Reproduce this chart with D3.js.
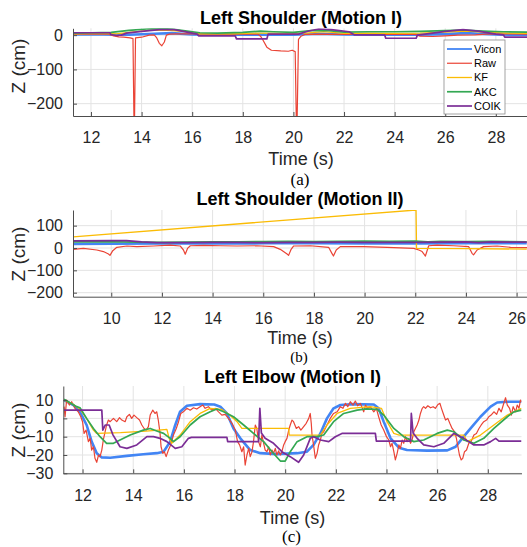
<!DOCTYPE html>
<html>
<head>
<meta charset="utf-8">
<script src="https://d3js.org/d3.v7.min.js"></script>
<style>
body { margin: 0; background: #fff; }
svg { display: block; }
.axis text { font-family: "Liberation Sans", Arial, sans-serif; font-size: 16px; fill: #262626; }
.axis path, .axis line { stroke: #4d4d4d; }
.grid { stroke: #e3e3e3; stroke-width: 1; }
.title { font-family: "Liberation Sans", Arial, sans-serif; font-size: 18px; font-weight: bold; fill: #000; }
.label { font-family: "Liberation Sans", Arial, sans-serif; font-size: 18px; fill: #262626; }
.ylabel { font-size: 19px; }
.caption { font-family: "Liberation Serif", "Times New Roman", serif; fill: #000; }
.legend text { font-family: "Liberation Sans", Arial, sans-serif; font-size: 11px; fill: #000; }
</style>
</head>
<body>
<div id="chart"></div>
<script>
var width = 527;
var height = 547;

// Series names and colours (legend order)
var seriesNames = ["Vicon", "Raw", "KF", "AKC", "COIK"];
var seriesColors = ["#4285f4", "#ea4335", "#fbbc05", "#34a853", "#7b2d96"];

// ---- (a) Left Shoulder (Motion I) : [time s, Z cm]
var shoulder1Vicon = [[11.3,2],[12.5,2],[13,1],[13.5,1],[14.5,4],[15.2,6],[16,2],[17,1],[18,1],[19,2],[20,1],[21,4],[22,2],[23,1],[24,1],[25,1],[26,3],[26.8,6],[28,2],[29.3,1]];
var shoulder1Raw = [[11.3,3],[12.7,3],[12.9,-2],[13.1,-5],[13.3,-6],[13.55,-8],[13.66,-10],[13.71,-320],[13.76,-8],[14.0,-6],[14.3,0],[14.5,1],[14.6,-8],[14.7,-24],[14.8,-31],[14.9,-20],[14.98,0],[15.1,3],[15.5,4],[16,4],[17,3],[18,4],[18.6,3],[18.7,-3],[18.8,-15],[18.95,-35],[19.13,-44],[19.5,-46],[19.8,-47],[19.95,-44],[20.07,-48],[20.13,-320],[20.2,-12],[20.3,-3],[20.45,2],[21,3],[22,2],[23,3],[24,2],[24.8,3],[25.0,-3],[25.5,-4],[26.0,-2],[26.5,0],[27.2,1],[27.6,3],[28.5,4],[29.3,3]];
var shoulder1KF = [[11.3,4],[12.5,5],[13,4],[13.5,8],[14.3,14],[15,15],[15.7,10],[16.3,4],[17.5,4],[18.5,6],[19.5,5],[20.5,6],[21.2,10],[22,5],[23,6],[24,5],[25,6],[26,9],[26.8,12],[27.7,8],[28.5,6],[29.3,5]];
var shoulder1AKC = [[11.3,6],[12,7],[12.8,8],[13.5,14],[14.2,18],[14.7,19],[15.2,18],[15.8,12],[16.3,7],[17,6],[18,8],[18.7,12],[19.2,10],[20,8],[20.7,13],[21.3,14],[22,9],[23,10],[24,10],[25,11],[26,13],[26.7,15],[27.5,12],[28.3,10],[29.3,9]];
var shoulder1COIK = [[11.3,7],[12.75,7],[12.78,2],[13.0,-1],[13.2,0],[13.4,6],[14,11],[14.7,16],[15.3,16],[15.8,9],[16.2,3],[16.25,-2],[17.7,-2],[17.75,-11],[18.95,-11],[19.0,3],[20.2,3],[20.6,12],[21.0,18],[21.5,16],[22.2,10],[22.4,1],[23.6,1],[23.65,-9],[24.85,-9],[24.9,0],[25.5,6],[26.0,11],[26.7,16],[27.3,12],[28.0,3],[28.3,1],[28.35,-6],[29.3,-6]];

// ---- (b) Left Shoulder (Motion II)
var shoulder2Vicon = [[8.5,18],[10,19],[12,20],[14,20],[16,21],[18,21],[20,20],[22,20],[24,21],[26.4,21]];
var shoulder2Raw = [[8.5,-6],[8.9,-2],[9.43,-9],[9.69,-16],[9.89,-27],[9.95,-33],[10.06,-12],[10.22,3],[10.62,9],[11.01,6],[11.67,9],[12.33,13],[12.72,9],[12.85,-9],[12.92,-28],[13.01,-2],[13.12,10],[13.65,12],[14.3,10],[14.96,9],[15.75,10],[16.41,6],[16.67,-6],[16.94,-27],[17.0,-33],[17.1,-6],[17.2,9],[17.86,10],[18.58,3],[18.71,-24],[18.77,-36],[18.88,-9],[19.04,6],[19.96,6],[20.89,3],[21.94,-2],[22.14,-9],[22.27,-16],[22.4,-36],[22.53,10],[22.86,13],[23.52,10],[24.11,6],[24.24,-24],[24.3,-31],[24.44,-9],[24.7,6],[25.23,9],[25.76,3],[26.42,2]];
var shoulder2KF = [[8.5,50],[22.03,170],[22.05,-2],[24,-3],[26.4,-5]];
var shoulder2AKC = [[8.5,27],[10,28],[11,26],[12,25],[13,26],[14,27],[15,28],[16,29],[17,30],[18,29],[19,30],[20,31],[21,30],[22,31],[22.5,28],[23,30],[24,29],[25,30],[26.4,28]];
var shoulder2COIK = [[8.5,32],[10,33],[10.6,33],[11.2,27],[11.8,24],[13,24],[14,25],[15,25],[16,24],[17,25],[18,25],[19,26],[20,25],[21,25],[22,25],[23,26],[24,27],[24.5,24],[25,27],[26,26],[26.4,26]];

// ---- (c) Left Elbow (Motion I)
var elbowVicon = [[11.27,10],[11.64,7.3],[11.9,3.6],[12.16,-3.6],[12.36,-12.7],[12.56,-19],[12.76,-21.3],[13.09,-21.5],[13.75,-20.5],[14.4,-19.6],[14.93,-19],[15.2,-18.2],[15.46,-12.7],[15.66,-3.6],[15.85,3.6],[16.12,6.9],[16.64,7.8],[17.2,7.6],[17.44,6.4],[17.7,2.7],[17.96,-5.5],[18.23,-10.9],[18.62,-17.3],[19.02,-19],[19.67,-19.5],[20.47,-19],[20.86,-18.2],[21.12,-14.5],[21.39,-8.2],[21.65,0],[21.91,5.5],[22.18,7.3],[22.7,7.8],[23.5,7.6],[23.69,5.5],[23.89,-1.8],[24.16,-10.9],[24.49,-16],[24.81,-17.3],[25.6,-17.6],[26.4,-17.5],[26.73,-15.5],[26.99,-10.9],[27.32,-5.5],[27.71,0.9],[28.11,6.4],[28.37,8.7],[28.77,9.1],[29.33,9.1]];
var elbowRaw = [[11.27,6.4],[11.31,0.9],[11.37,10],[11.48,7.3],[11.57,9.1],[11.7,5.5],[11.83,3.6],[11.93,0.9],[12.0,-1.8],[12.06,-8.2],[12.14,-6.4],[12.23,-12.7],[12.3,-10.9],[12.36,-17.3],[12.43,-15.5],[12.49,-21.8],[12.56,-24],[12.63,-20],[12.69,-20.9],[12.76,-17.3],[12.82,-11.8],[12.89,-7.3],[12.95,-3.6],[13.02,-0.9],[13.09,-1.8],[13.22,0],[13.35,-1.8],[13.46,0.4],[13.55,-0.9],[13.68,-1.8],[13.75,0.9],[13.85,2.2],[13.94,0],[14.03,1.8],[14.14,0.4],[14.25,-0.9],[14.34,-3.6],[14.43,-5.5],[14.51,-6.4],[14.6,-4.5],[14.67,1.8],[14.77,4.5],[14.86,2.7],[14.93,3.6],[14.99,-0.9],[15.06,-8.2],[15.1,-15.5],[15.17,-19.1],[15.23,-18.2],[15.3,-20.9],[15.39,-17.3],[15.48,-14.5],[15.59,-9.1],[15.7,-5.5],[15.79,-1.8],[15.88,2.7],[15.98,3.6],[16.12,5.5],[16.25,4.5],[16.38,5.8],[16.51,5.1],[16.64,6.4],[16.75,7.3],[16.84,5.5],[16.97,6.4],[17.1,4.5],[17.24,5.5],[17.37,3.6],[17.5,1.8],[17.63,2.2],[17.76,0],[17.9,-2.7],[18.03,-6.4],[18.12,-12.7],[18.2,-14.5],[18.29,-18.2],[18.36,-15.5],[18.42,-25.5],[18.49,-20],[18.56,-16.4],[18.62,-20.9],[18.69,-18.2],[18.75,-12.7],[18.82,-3.6],[18.88,-5.5],[18.95,-12.7],[19.02,-15.5],[19.08,-9.1],[19.15,-13.6],[19.21,-17.3],[19.28,-18.2],[19.35,-15.5],[19.41,-20],[19.48,-17.3],[19.54,-19.1],[19.61,-16.4],[19.67,-20],[19.74,-17.8],[19.81,-20],[19.87,-18.2],[19.94,-14.5],[20.0,-12.7],[20.07,-10.9],[20.14,-6.4],[20.2,-3.6],[20.27,-0.9],[20.33,-1.8],[20.44,-5.5],[20.53,-4.5],[20.62,-6.4],[20.73,-4.5],[20.83,-2.7],[20.93,0],[20.99,2.7],[21.03,-2.7],[21.06,-9.1],[21.12,-14.5],[21.19,-21.8],[21.26,-19.1],[21.32,-14.5],[21.39,-11.8],[21.45,-8.2],[21.52,-7.3],[21.65,-3.6],[21.78,0],[21.91,2.7],[22.05,3.6],[22.18,6.4],[22.28,5.5],[22.38,8.2],[22.47,6.4],[22.57,9.1],[22.68,7.3],[22.77,9.5],[22.86,6.9],[22.97,8.2],[23.1,3.6],[23.17,7.3],[23.26,5.5],[23.36,6.4],[23.5,3.6],[23.6,5.5],[23.69,0.9],[23.79,-3.6],[23.89,-6.4],[24.0,-10],[24.09,-11.8],[24.16,-15.5],[24.22,-13.6],[24.29,-18.2],[24.35,-22.7],[24.42,-19.1],[24.49,-14.5],[24.55,-16.4],[24.62,-11.8],[24.68,-13.6],[24.75,-10],[24.81,-12.7],[24.88,-10.9],[24.95,-13.6],[25.01,-11.8],[25.08,-7.3],[25.14,-5.5],[25.21,-3.6],[25.28,-0.9],[25.34,2.7],[25.41,5.5],[25.47,6.4],[25.54,5.5],[25.63,6.9],[25.74,5.8],[25.84,6.4],[25.93,5.5],[26.03,7.6],[26.11,8.2],[26.17,5.5],[26.24,2.7],[26.33,-0.9],[26.42,0],[26.5,-2.7],[26.59,-5.5],[26.69,-7.3],[26.76,-10.9],[26.82,-15.5],[26.88,-20],[26.95,-22.7],[27.01,-21.8],[27.08,-18.2],[27.16,-17.3],[27.25,-13.6],[27.34,-12.7],[27.45,-9.1],[27.55,-8.2],[27.65,-5.5],[27.74,-3.6],[27.84,-1.8],[27.95,-0.9],[28.04,0.9],[28.13,1.8],[28.24,3.6],[28.35,2.2],[28.44,5.5],[28.53,3.6],[28.61,7.3],[28.7,11.3],[28.77,7.3],[28.86,5.5],[28.93,1.8],[29.0,6.4],[29.1,3.6],[29.16,7.3],[29.23,5.5],[29.29,10],[29.33,9.1]];
var elbowKF = [[11.27,10],[11.6,8],[11.9,5],[12.2,-1],[12.43,-6.4],[12.55,-8.2],[13.5,-7.8],[14.5,-7],[15.0,-6.4],[15.33,-6],[15.42,-11],[15.52,-13.6],[15.85,-9.1],[16.25,-1.8],[16.64,2.7],[17.04,5.5],[17.5,4.9],[17.8,2],[18.1,-1.8],[18.29,-5.5],[20.14,-5.5],[20.16,-9.1],[21.39,-9.1],[21.65,-3.6],[22.05,2.7],[22.57,5.5],[23.36,6.4],[23.8,5.5],[24.02,-1.8],[24.29,-8.2],[24.5,-9.1],[27.05,-9.1],[27.19,-12.7],[27.71,-9.1],[28.24,-3.6],[28.77,1.8],[29.33,5.5]];
var elbowAKC = [[11.27,10.5],[11.77,6.4],[11.9,5.8],[12.16,0],[12.43,-5.5],[12.69,-10],[12.95,-13.6],[13.22,-13.6],[13.48,-11.8],[13.88,-9.1],[14.4,-6.4],[14.67,-5.5],[14.93,-6.9],[15.2,-8.2],[15.46,-10.9],[15.59,-12.7],[15.85,-10],[16.25,-3.6],[16.64,0.9],[17.04,3.6],[17.3,5.1],[17.57,3.6],[17.96,0.9],[18.36,-3.6],[18.75,-8.2],[19.15,-12.7],[19.48,-18.2],[19.81,-23.3],[20.0,-23.3],[20.2,-18.2],[20.47,-12.7],[20.86,-10],[21.26,-10],[21.52,-9.1],[21.91,-1.8],[22.31,2.7],[22.84,4.5],[23.2,5.2],[23.63,4.9],[23.89,1.8],[24.29,-5.5],[24.68,-10],[25.08,-12.7],[25.47,-11.8],[26.0,-8.2],[26.4,-6.4],[26.66,-7.3],[27.05,-11.8],[27.45,-13.6],[27.84,-10.9],[28.24,-5.5],[28.77,0.9],[29.03,3.6],[29.33,4.5]];
var elbowCOIK = [[11.27,4.5],[12.76,4.5],[12.8,-6.4],[12.9,-3.6],[13.05,-3.6],[13.2,-9],[13.48,-15.5],[13.75,-16.4],[14.14,-14.5],[14.54,-10],[14.8,-10],[15.06,-10.9],[15.33,-12.7],[15.66,-16.4],[15.92,-15.5],[16.18,-10.9],[16.3,-10.4],[17.7,-10.4],[17.73,-12.7],[18.95,-12.7],[19.0,5.5],[19.06,-8],[19.21,-10.9],[19.54,-13.6],[19.87,-18.2],[20.2,-20.9],[20.53,-24],[20.73,-20],[20.99,-10.9],[21.12,-10],[21.39,-11.8],[21.72,-12.7],[21.98,-10],[22.24,-8.2],[23.56,-8.2],[23.6,-12.4],[24.95,-12.4],[24.98,2.7],[25.05,-8],[25.21,-10.9],[25.47,-14.5],[25.87,-15.5],[26.26,-13.6],[26.66,-8.2],[27.05,-10.9],[27.45,-14.5],[27.84,-14.5],[28.11,-12.7],[28.31,-10.9],[28.44,-12.4],[29.33,-12.4]];

var ticksShoulder1X = [12, 14, 16, 18, 20, 22, 24, 26, 28];
var ticksShoulder1Y = [-200, -100, 0];
var ticksShoulder2X = [10, 12, 14, 16, 18, 20, 22, 24, 26];
var ticksShoulder2Y = [-200, -100, 0, 100];
var ticksElbowX = [12, 14, 16, 18, 20, 22, 24, 26, 28];
var ticksElbowY = [-30, -20, -10, 0, 10];

// Panel layouts
var panels = [
    { id: "a", title: "Left Shoulder (Motion I)", caption: "(a)",
      left: 73, right: 527, top: 28.3, bottom: 116,
      xDomain: [11.29, 29.23], yDomain: [-236, 20],
      xTicks: ticksShoulder1X, yTicks: ticksShoulder1Y,
      titleY: 24, xLabelY: 165, captionY: 185, captionSize: 17, yLabelY: 66, centerX: 301,
      series: [shoulder1Vicon, shoulder1Raw, shoulder1KF, shoulder1AKC, shoulder1COIK],
      legend: true },
    { id: "b", title: "Left Shoulder (Motion II)", caption: "(b)",
      left: 73, right: 527, top: 210, bottom: 296.7,
      xDomain: [8.49, 26.41], yDomain: [-218, 170],
      xTicks: ticksShoulder2X, yTicks: ticksShoulder2Y,
      titleY: 205, xLabelY: 344, captionY: 362, captionSize: 15, yLabelY: 254, centerX: 300,
      series: [shoulder2Vicon, shoulder2Raw, shoulder2KF, shoulder2AKC, shoulder2COIK],
      legend: false },
    { id: "c", title: "Left Elbow (Motion I)", caption: "(c)",
      left: 63.3, right: 521.5, top: 386, bottom: 473.3,
      xDomain: [11.24, 29.33], yDomain: [-30, 17.7],
      xTicks: ticksElbowX, yTicks: ticksElbowY,
      titleY: 382.5, xLabelY: 524, captionY: 542, captionSize: 17, yLabelY: 430, centerX: 292.5,
      series: [elbowVicon, elbowRaw, elbowKF, elbowAKC, elbowCOIK],
      legend: false }
];

var lineWidths = [2.6, 1.2, 1.3, 1.7, 1.7];

var svg = d3.select("#chart").append("svg")
    .attr("width", width)
    .attr("height", height);

panels.forEach(drawPanel);

function drawPanel(p) {
    var x = d3.scaleLinear().domain(p.xDomain).range([p.left, p.right]);
    var y = d3.scaleLinear().domain(p.yDomain).range([p.bottom, p.top]);

    var g = svg.append("g").attr("id", "panel-" + p.id);

    g.append("clipPath")
        .attr("id", "clip-" + p.id)
        .append("rect")
        .attr("x", p.left)
        .attr("y", p.top)
        .attr("width", p.right - p.left)
        .attr("height", p.bottom - p.top);

    // grid lines
    g.selectAll(".vgrid")
        .data(p.xTicks)
        .enter().append("line")
        .attr("class", "grid")
        .attr("x1", d => x(d)).attr("x2", d => x(d))
        .attr("y1", p.top).attr("y2", p.bottom);

    g.selectAll(".hgrid")
        .data(p.yTicks)
        .enter().append("line")
        .attr("class", "grid")
        .attr("x1", p.left).attr("x2", p.right)
        .attr("y1", d => y(d)).attr("y2", d => y(d));

    // data lines
    var line = d3.line()
        .x(d => x(d[0]))
        .y(d => y(d[1]));

    var plot = g.append("g").attr("clip-path", "url(#clip-" + p.id + ")");
    p.series.forEach(function(s, i) {
        plot.append("path")
            .datum(s)
            .attr("fill", "none")
            .attr("stroke", seriesColors[i])
            .attr("stroke-width", lineWidths[i])
            .attr("stroke-linejoin", "round")
            .attr("d", line);
    });

    // axes (ticks point inward)
    g.append("g")
        .attr("class", "axis")
        .attr("transform", "translate(0," + p.bottom + ")")
        .call(d3.axisBottom(x).tickValues(p.xTicks).tickSizeInner(-4).tickSizeOuter(0).tickPadding(16));

    g.append("g")
        .attr("class", "axis")
        .attr("transform", "translate(" + p.left + ",0)")
        .call(d3.axisLeft(y).tickValues(p.yTicks).tickSizeInner(-4).tickSizeOuter(0).tickPadding(10));

    // texts
    g.append("text")
        .attr("class", "title")
        .attr("x", p.centerX).attr("y", p.titleY)
        .attr("text-anchor", "middle")
        .text(p.title);

    g.append("text")
        .attr("class", "label")
        .attr("x", p.centerX).attr("y", p.xLabelY)
        .attr("text-anchor", "middle")
        .text("Time (s)");

    g.append("text")
        .attr("class", "label ylabel")
        .attr("transform", "translate(25," + p.yLabelY + ")rotate(-90)")
        .attr("text-anchor", "middle")
        .text("Z (cm)");

    g.append("text")
        .attr("class", "caption")
        .attr("x", p.centerX - 1).attr("y", p.captionY)
        .attr("text-anchor", "middle")
        .style("font-size", p.captionSize + "px")
        .text(p.caption);

    if (p.legend) {
        var lg = g.append("g").attr("class", "legend");
        lg.append("rect")
            .attr("x", 444).attr("y", 40)
            .attr("width", 61).attr("height", 74)
            .attr("fill", "#fff")
            .attr("stroke", "#8c8c8c")
            .attr("stroke-width", 0.8);
        var rows = lg.selectAll(".row")
            .data(seriesNames)
            .enter().append("g")
            .attr("transform", (d, i) => "translate(0," + (49 + i * 14.25) + ")");
        rows.append("line")
            .attr("x1", 447).attr("x2", 472)
            .attr("stroke", (d, i) => seriesColors[i])
            .attr("stroke-width", (d, i) => Math.min(lineWidths[i], 1.8));
        rows.append("text")
            .attr("x", 474).attr("dy", "0.35em")
            .text(d => d);
    }
}
</script>
</body>
</html>
